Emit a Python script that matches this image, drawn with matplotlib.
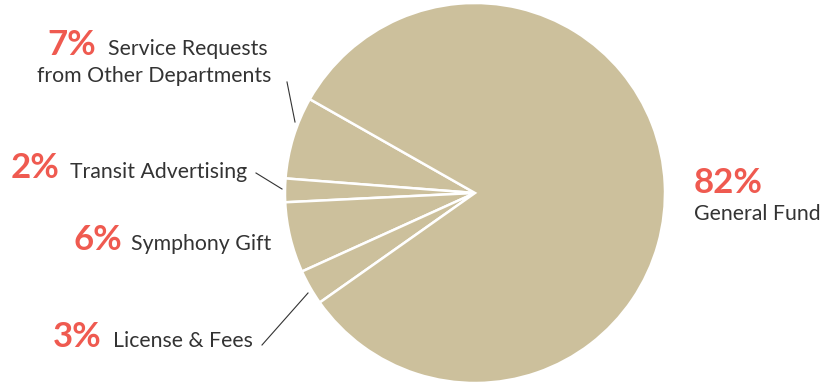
import matplotlib.pyplot as plt

# Revenue sources, share of total (%)
sources = ["Service Requests\nfrom Other Departments", "Transit Advertising",
           "Symphony Gift", "License & Fees", "General Fund"]
shares = [7, 2, 6, 3, 82]

TAN = "#CCC09C"
RED = "#EF5A50"
INK = "#333333"
plt.rcParams['font.family'] = ['Lato', 'DejaVu Sans']

W, H = 827, 385
fig = plt.figure(figsize=(W / 100, H / 100), dpi=100)
ax = fig.add_axes([0, 0, 1, 1])

# work in pixel space measured from the top
def py(y):
    return H - y

ax.pie(shares, center=(475, py(193)), radius=190, startangle=150.4,
       counterclock=True, colors=[TAN] * len(shares),
       wedgeprops=dict(edgecolor='white', linewidth=1.8), frame=True)
ax.set_xlim(0, W)
ax.set_ylim(0, H)
ax.set_aspect('equal')
ax.axis('off')

# label layout: (percent right edge, text left edge, baseline)
pct_size, txt_size = 25, 15.3
labels = [
    (96, 108, 55),
    (60, 70, 178),
    (122, 131, 250),
    (102, 113, 347),
]
for (px, tx, base), name, val in zip(labels, sources[:4], shares[:4]):
    ax.text(px, py(base), f"{val}%", color=RED, fontsize=pct_size,
            fontweight='bold', ha='right', va='baseline')
    first, *rest = name.split("\n")
    ax.text(tx, py(base), first, color=INK, fontsize=txt_size,
            ha='left', va='baseline')
    if rest:
        ax.text(271, py(base + 27), rest[0], color=INK, fontsize=txt_size,
                ha='right', va='baseline')

ax.text(694, py(193), f"{shares[4]}%", color=RED, fontsize=pct_size,
        fontweight='bold', ha='left', va='baseline')
ax.text(694, py(220), sources[4], color=INK, fontsize=txt_size,
        ha='left', va='baseline')

# leader lines
for (x0, y0), (x1, y1) in [((287, 82), (295, 122)),
                           ((256, 173), (282, 189)),
                           ((262, 345), (308, 293))]:
    ax.plot([x0, x1], [py(y0), py(y1)], color=INK, lw=0.8)

fig.savefig("out.png", dpi=100, facecolor='white')
